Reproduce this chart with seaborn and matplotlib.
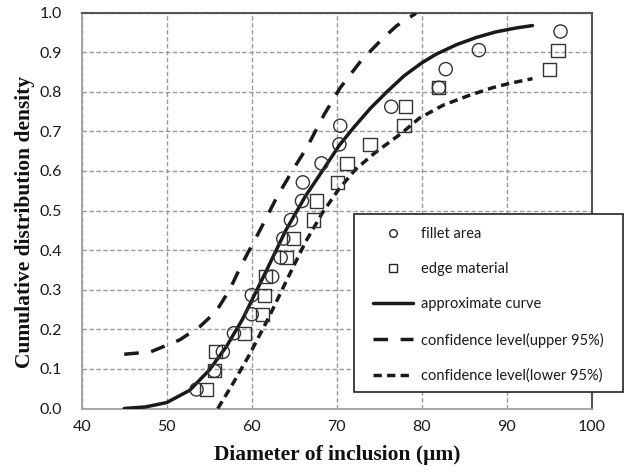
import numpy as np
import pandas as pd
import seaborn as sns
import matplotlib
matplotlib.use("Agg")
import matplotlib.pyplot as plt
from matplotlib.lines import Line2D
from matplotlib.patches import Rectangle

# ---------------- data ----------------
fillet_x = [53.5, 55.6, 56.6, 57.9, 60.0, 60.0, 62.4, 63.4, 63.7, 64.6,
            65.9, 66.0, 68.2, 70.3, 70.4, 76.4, 82.0, 82.8, 86.7, 96.3]
fillet_y = [0.048, 0.095, 0.143, 0.190, 0.238, 0.286, 0.333, 0.381, 0.429, 0.476,
            0.524, 0.571, 0.619, 0.667, 0.714, 0.762, 0.810, 0.857, 0.905, 0.952]

edge_x = [54.7, 55.6, 55.7, 59.1, 61.3, 61.5, 61.6, 64.1, 64.9, 67.3,
          67.6, 70.1, 71.2, 73.9, 77.9, 78.1, 82.0, 95.0, 96.0]
edge_y = [0.048, 0.095, 0.143, 0.190, 0.238, 0.286, 0.333, 0.381, 0.429, 0.476,
          0.524, 0.571, 0.619, 0.667, 0.714, 0.762, 0.810, 0.857, 0.905]

approx_x = [45.0, 47.5, 50.0, 52.7, 55.0, 57.0, 58.9, 60.5, 61.6, 64.0, 66.3, 68.3,
            70.3, 72.0, 73.9, 75.9, 77.9, 80.0, 81.7, 84.1, 86.4, 88.7, 91.1, 93.0]
approx_y = [0.0, 0.004, 0.015, 0.046, 0.097, 0.156, 0.225, 0.295, 0.343, 0.450, 0.536, 0.600,
            0.665, 0.710, 0.757, 0.800, 0.840, 0.873, 0.895, 0.919, 0.937, 0.951, 0.961, 0.967]

upper_x = [45.0, 48.1, 51.5, 53.9, 55.8, 57.4, 58.7, 61.0, 63.0, 64.9, 66.5, 68.5,
           70.4, 72.8, 75.1, 77.0, 79.3]
upper_y = [0.137, 0.143, 0.173, 0.207, 0.245, 0.300, 0.359, 0.452, 0.536, 0.605, 0.660, 0.742,
           0.810, 0.877, 0.928, 0.966, 0.998]

lower_x = [56.0, 57.7, 59.7, 62.0, 64.4, 66.3, 68.3, 70.2, 72.2, 74.5, 77.6, 79.7,
           82.5, 85.6, 88.3, 90.3, 93.0]
lower_y = [0.0, 0.060, 0.135, 0.230, 0.337, 0.420, 0.494, 0.553, 0.604, 0.646, 0.695, 0.733,
           0.766, 0.791, 0.810, 0.821, 0.833]

labels = ["fillet area", "edge material", "approximate curve",
          "confidence level(upper 95%)", "confidence level(lower 95%)"]
x_ticks = [40, 50, 60, 70, 80, 90, 100]
y_ticks = [0.0, 0.1, 0.2, 0.3, 0.4, 0.5, 0.6, 0.7, 0.8, 0.9, 1.0]

# ---------------- style ----------------
sns.set_theme(style="white")
plt.rcParams["font.family"] = ["Lato", "DejaVu Sans"]

W, H = 629, 474
fig = plt.figure(figsize=(W / 100, H / 100), dpi=100)
L, R, T, B = 81.7, 592.0, 12.5, 408.5
ax = fig.add_axes([L / W, 1 - B / H, (R - L) / W, (B - T) / H])

line_kw = dict(color="#1a1a1a", linewidth=2.5, sort=False, estimator=None, legend=False)
sns.lineplot(x=approx_x, y=approx_y, ax=ax, linestyle="-", zorder=3, **line_kw)
sns.lineplot(x=upper_x, y=upper_y, ax=ax, linestyle=(0, (4.2, 3.6)), zorder=3, **line_kw)
sns.lineplot(x=lower_x, y=lower_y, ax=ax, linestyle=(0, (2.4, 1.5)), zorder=3, **line_kw)

sc_kw = dict(s=90, facecolor="none", edgecolor="#333333", linewidth=1.0, legend=False, zorder=4)
sns.scatterplot(x=fillet_x, y=fillet_y, ax=ax, marker="o", **sc_kw)
sns.scatterplot(x=edge_x, y=edge_y, ax=ax, marker="s", **sc_kw)

ax.set_xlim(40, 100)
ax.set_ylim(0, 1.0)
ax.set_xticks(x_ticks)
ax.set_yticks(y_ticks)
ax.set_xticklabels([f"{v:d}" for v in x_ticks])
ax.set_yticklabels([f"{v:.1f}" for v in y_ticks])
ax.tick_params(axis="both", length=0, labelsize=11.5, colors="#1a1a1a")
ax.tick_params(axis="x", pad=8.5)
ax.tick_params(axis="y", pad=14)
ax.grid(True, color="#9a9a9a", linestyle=(0, (3.2, 1.8)), linewidth=1.0)
ax.set_axisbelow(True)
for s in ["left", "bottom"]:
    ax.spines[s].set_color("#9a9a9a")
    ax.spines[s].set_linewidth(1.2)
for s in ["top", "right"]:
    ax.spines[s].set_color("#555555")
    ax.spines[s].set_linewidth(1.5)

ax.set_xlabel("Diameter of inclusion (μm)", fontfamily=["Liberation Serif", "DejaVu Serif"],
              fontweight="bold", fontsize=15.5, color="#111111")
ax.set_ylabel("Cumulative distribution density", fontfamily=["Liberation Serif", "DejaVu Serif"],
              fontweight="bold", fontsize=15.5, color="#111111")
ax.xaxis.set_label_coords(0.5, -0.092)
ax.yaxis.set_label_coords(-0.092, 0.47)

# ---------------- legend ----------------
rect = Rectangle((354.3 / W, 1 - 391.7 / H), (622.7 - 354.3) / W, (391.7 - 214.0) / H,
                 transform=fig.transFigure, facecolor="white", edgecolor="#222222",
                 linewidth=1.2, zorder=4)
fig.add_artist(rect)
handles = [
    Line2D([], [], linestyle="none", marker="o", markersize=5.5, markerfacecolor="none",
           markeredgecolor="#222222", markeredgewidth=1.0),
    Line2D([], [], linestyle="none", marker="s", markersize=5.5, markerfacecolor="none",
           markeredgecolor="#222222", markeredgewidth=1.0),
    Line2D([], [], color="#1a1a1a", linewidth=2.5, linestyle="-"),
    Line2D([], [], color="#1a1a1a", linewidth=2.5, linestyle=(0, (4.2, 3.6))),
    Line2D([], [], color="#1a1a1a", linewidth=2.5, linestyle=(0, (2.4, 1.5))),
]
leg = fig.legend(handles, labels, loc="upper left", bbox_to_anchor=(373 / W, 1 - 227 / H),
                 frameon=False, fontsize=10.5, handlelength=2.75, handletextpad=0.55,
                 labelspacing=1.45, borderpad=0, borderaxespad=0)
leg.set_zorder(6)
for t in leg.get_texts():
    t.set_color("#1a1a1a")

fig.savefig("out.png", dpi=100)
